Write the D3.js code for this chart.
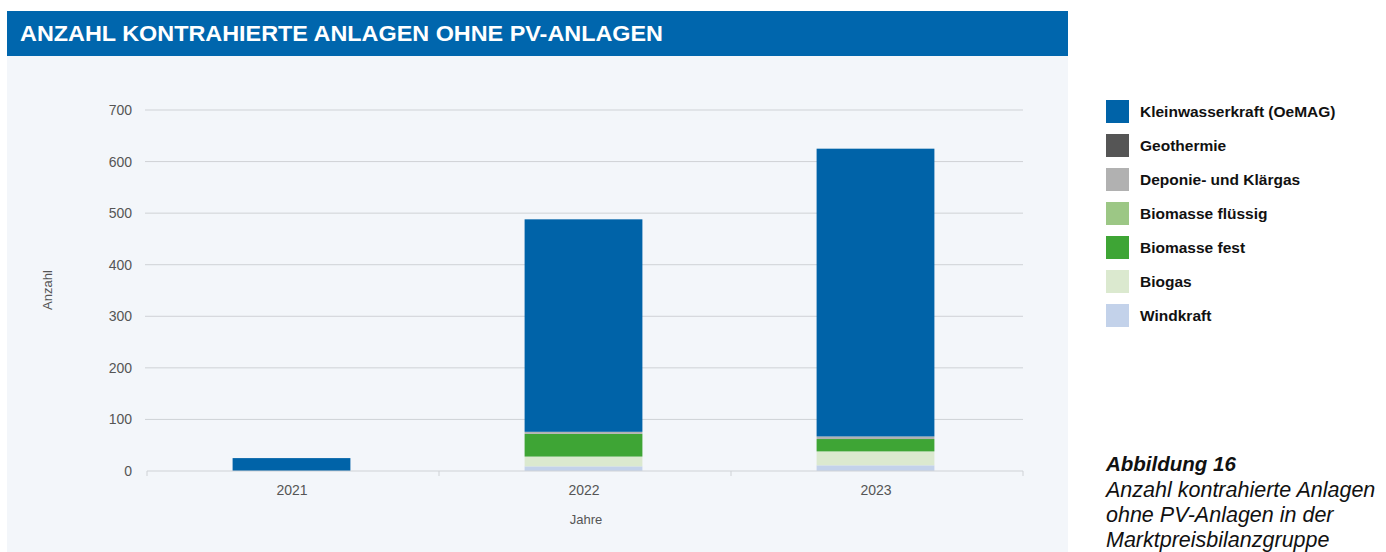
<!DOCTYPE html>
<html><head><meta charset="utf-8">
<script src="https://cdn.jsdelivr.net/npm/d3@7"></script>
<style>body{margin:0;background:#fff;}svg{display:block;}</style>
</head><body>
<svg id="c" width="1386" height="552"></svg>
<script>
const years = ["2021", "2022", "2023"];
const seriesNames = ["Windkraft", "Biogas", "Biomasse fest", "Biomasse flüssig", "Deponie- und Klärgas", "Geothermie", "Kleinwasserkraft (OeMAG)"];
const windkraft = [0, 9, 11];
const biogas = [0, 19, 27];
const biomasseFest = [0, 44, 24];
const biomasseFluessig = [0, 0, 0];
const deponie = [0, 4, 5];
const geothermie = [0, 0, 0];
const kleinwasser = [25, 412, 558];
const colors = ["#c3d2ea", "#dbe9cf", "#3ea535", "#9cc785", "#b1b1b1", "#555555", "#0063a8"];
const yTicks = [0, 100, 200, 300, 400, 500, 600, 700];
const legendOrder = ["Kleinwasserkraft (OeMAG)", "Geothermie", "Deponie- und Klärgas", "Biomasse flüssig", "Biomasse fest", "Biogas", "Windkraft"];
const captionLines = ["Anzahl kontrahierte Anlagen", "ohne PV-Anlagen in der", "Marktpreisbilanzgruppe"];

const valuesBySeries = [windkraft, biogas, biomasseFest, biomasseFluessig, deponie, geothermie, kleinwasser];
const table = years.map((y, i) => {
  const row = {year: y};
  seriesNames.forEach((s, k) => row[s] = valuesBySeries[k][i]);
  return row;
});
const stacked = d3.stack().keys(seriesNames)(table);
const color = d3.scaleOrdinal().domain(seriesNames).range(colors);
const FONT = "'Liberation Sans', Arial, sans-serif";

const svg = d3.select("#c");
svg.append("rect").attr("x", 7).attr("y", 56).attr("width", 1061).attr("height", 496).attr("fill", "#f3f6fa");
svg.append("rect").attr("x", 7).attr("y", 11).attr("width", 1061).attr("height", 45).attr("fill", "#0066ad");
svg.append("text").attr("x", 20).attr("y", 41).attr("fill", "#fff")
  .attr("font-family", "'Liberation Sans Narrow', 'Arial Narrow', sans-serif").attr("font-weight", "bold")
  .attr("font-size", 22).attr("textLength", 643).attr("lengthAdjust", "spacingAndGlyphs")
  .text("ANZAHL KONTRAHIERTE ANLAGEN OHNE PV-ANLAGEN");

const x = d3.scaleBand().domain(years).range([147, 1023]).paddingInner(0.6).paddingOuter(0.3);
const y = d3.scaleLinear().domain([0, 700]).range([471, 110]);

svg.append("g").selectAll("line").data(yTicks.filter(t => t > 0)).join("line")
  .attr("x1", 145).attr("x2", 1023).attr("y1", d => y(d)).attr("y2", d => y(d))
  .attr("stroke", "#cfd2d6").attr("stroke-width", 1);

const yAxis = d3.axisLeft(y).tickValues(yTicks).tickSize(0).tickPadding(13);
const ya = svg.append("g").attr("transform", "translate(145,0)").call(yAxis);
ya.select(".domain").remove();
ya.selectAll("text").attr("font-family", FONT).attr("font-size", 14).attr("fill", "#555");

svg.append("g").selectAll("g").data(stacked).join("g").attr("fill", d => color(d.key))
  .selectAll("rect").data(d => d).join("rect")
  .attr("x", d => x(d.data.year) - 2).attr("width", x.bandwidth() + 1)
  .attr("y", d => y(d[1])).attr("height", d => y(d[0]) - y(d[1]));

const xa = svg.append("g").attr("transform", "translate(0,471)");
xa.append("line").attr("x1", 147).attr("x2", 1023).attr("stroke", "#cfd2d6");
const bounds = [147, 439, 731, 1023];
xa.selectAll("line.t").data(bounds).join("line").attr("class", "t")
  .attr("x1", d => d).attr("x2", d => d).attr("y1", 0).attr("y2", 5).attr("stroke", "#cfd2d6");
xa.selectAll("text").data(years).join("text")
  .attr("x", d => x(d) + x.bandwidth() / 2 - 1).attr("y", 24).attr("text-anchor", "middle")
  .attr("font-family", FONT).attr("font-size", 14).attr("fill", "#555").text(d => d);

svg.append("text").attr("transform", "translate(52,290) rotate(-90)").attr("text-anchor", "middle")
  .attr("font-family", FONT).attr("font-size", 13).attr("fill", "#555").text("Anzahl");
svg.append("text").attr("x", 586).attr("y", 524).attr("text-anchor", "middle")
  .attr("font-family", FONT).attr("font-size", 13).attr("fill", "#555").text("Jahre");

const lg = svg.append("g").selectAll("g").data(legendOrder).join("g")
  .attr("transform", (d, i) => `translate(1106,${100 + i * 34})`);
lg.append("rect").attr("width", 23).attr("height", 23).attr("fill", d => color(d));
lg.append("text").attr("x", 34).attr("y", 17).attr("font-family", FONT).attr("font-weight", "bold")
  .attr("font-size", 15.5).attr("fill", "#111").text(d => d);

svg.append("text").attr("x", 1106).attr("y", 471).attr("font-family", FONT)
  .attr("font-size", 20.5).attr("font-weight", "bold").attr("font-style", "italic").attr("fill", "#111").text("Abbildung 16");
svg.append("g").selectAll("text").data(captionLines).join("text")
  .attr("x", 1106).attr("y", (d, i) => 497 + i * 25).attr("font-family", FONT)
  .attr("font-size", 21.5).attr("font-style", "italic").attr("fill", "#111").text(d => d);
</script>
</body></html>
